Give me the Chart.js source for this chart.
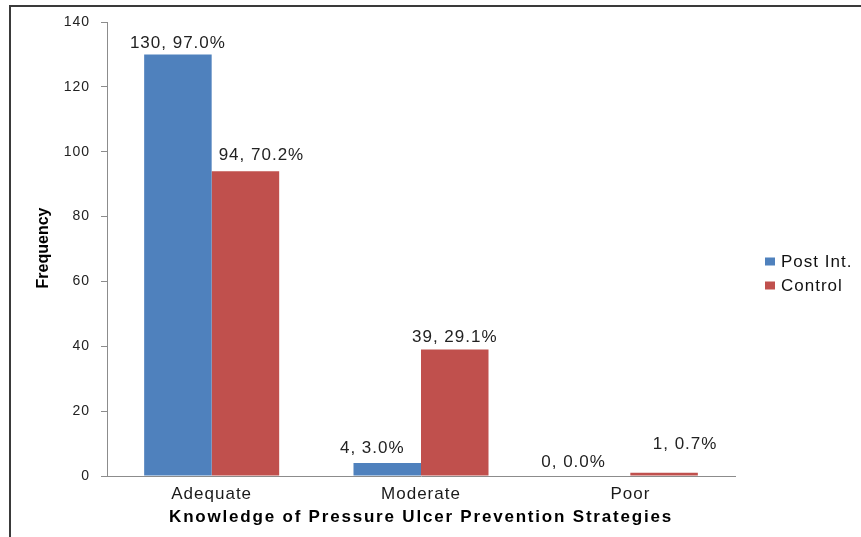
<!DOCTYPE html>
<html><head><meta charset="utf-8">
<script src="https://cdn.jsdelivr.net/npm/chart.js@4/dist/chart.umd.min.js"></script>
<style>
html,body{margin:0;padding:0;background:#fff;}
#wrap{position:relative;width:861px;height:537px;overflow:hidden;background:#fff;}
#frame{position:absolute;left:9px;top:5px;width:900px;height:600px;border-left:2px solid #3a3a3a;border-top:2px solid #3a3a3a;pointer-events:none;}
canvas{position:absolute;left:0;top:0;}
</style></head>
<body>
<div id="wrap"><canvas id="c" width="861" height="537"></canvas><div id="frame"></div></div>
<script>
const categories = ['Adequate', 'Moderate', 'Poor'];
const seriesNames = ['Post Int.', 'Control'];
const postIntCounts = [130, 4, 0];
const controlCounts = [94, 39, 1];
const postIntPercents = [97.0, 3.0, 0.0];
const controlPercents = [70.2, 29.1, 0.7];
const yTickValues = [0, 20, 40, 60, 80, 100, 120, 140];
const xAxisTitle = 'Knowledge of Pressure Ulcer Prevention Strategies';
const yAxisTitle = 'Frequency';

const FAMILY = "'Liberation Sans', Arial, sans-serif";
const seriesColors = ['#4F81BD', '#C0504D'];
// label nudges (style only): [dx, gap above bar top]
const labelNudges = [
  [[0, 6], [-15, 10], [-23, 9]],
  [[16, 11], [0, 8], [21, 24]]
];
const percents = [postIntPercents, controlPercents];

const spacingPlugin = {
  id: 'spacing',
  beforeUpdate(chart) { chart.ctx.letterSpacing = '1px'; },
  beforeLayout(chart) { chart.ctx.letterSpacing = '1px'; },
  beforeDraw(chart) { chart.ctx.letterSpacing = '1px'; }
};

const dataLabelPlugin = {
  id: 'dataLabels',
  afterDatasetsDraw(chart) {
    const ctx = chart.ctx;
    ctx.save();
    ctx.letterSpacing = '1px';
    ctx.font = '17px ' + FAMILY;
    ctx.fillStyle = '#222';
    ctx.textAlign = 'center';
    ctx.textBaseline = 'alphabetic';
    chart.data.datasets.forEach((ds, i) => {
      const meta = chart.getDatasetMeta(i);
      meta.data.forEach((bar, j) => {
        const txt = ds.data[j] + ', ' + percents[i][j].toFixed(1) + '%';
        const [dx, gap] = labelNudges[i][j];
        ctx.fillText(txt, bar.x + dx, bar.y - gap);
      });
    });
    ctx.restore();
  }
};

const extrasPlugin = {
  id: 'extras',
  afterDraw(chart) {
    const ctx = chart.ctx;
    const a = chart.chartArea;
    const mid = (a.top + a.bottom) / 2;
    ctx.save();
    // legend
    ctx.letterSpacing = '1px';
    ctx.font = '17px ' + FAMILY;
    ctx.textAlign = 'left';
    ctx.textBaseline = 'middle';
    chart.data.datasets.forEach((ds, i) => {
      const y = mid + 12.5 + i * 24;
      const x = a.right + 30;
      ctx.fillStyle = ds.backgroundColor;
      ctx.fillRect(x, y - 4, 10, 8);
      ctx.fillStyle = '#111';
      ctx.fillText(ds.label, x + 16, y + 1);
    });
    // x axis title
    ctx.letterSpacing = '1.8px';
    ctx.font = 'bold 17px ' + FAMILY;
    ctx.fillStyle = '#000';
    ctx.textAlign = 'center';
    ctx.textBaseline = 'middle';
    ctx.fillText(xAxisTitle, (a.left + a.right) / 2, a.bottom + 41);
    // y axis title
    ctx.letterSpacing = '0px';
    ctx.font = 'bold 16px ' + FAMILY;
    ctx.translate(44, mid - 1);
    ctx.rotate(-Math.PI / 2);
    ctx.fillText(yAxisTitle, 0, 0);
    ctx.restore();
  }
};

new Chart(document.getElementById('c'), {
  type: 'bar',
  data: {
    labels: categories,
    datasets: [
      { label: seriesNames[0], data: postIntCounts, backgroundColor: seriesColors[0] },
      { label: seriesNames[1], data: controlCounts, backgroundColor: seriesColors[1] }
    ]
  },
  options: {
    responsive: false,
    animation: false,
    devicePixelRatio: 1,
    layout: { padding: { top: 22, right: 126, bottom: 0, left: 0 } },
    datasets: { bar: { categoryPercentage: 0.645, barPercentage: 1.0 } },
    plugins: { legend: { display: false }, tooltip: { enabled: false } },
    scales: {
      x: {
        grid: { display: false, drawTicks: false },
        border: { display: true, color: '#8c8c8c', width: 1 },
        ticks: { color: '#1a1a1a', font: { size: 17, family: FAMILY }, padding: 8 },
        title: { display: false },
        afterFit(s) { s.height = 61; }
      },
      y: {
        min: 0, max: 140,
        afterBuildTicks(s) { s.ticks = yTickValues.map(v => ({ value: v })); },
        grid: { display: true, drawOnChartArea: false, drawTicks: true, tickLength: 6, color: '#8c8c8c' },
        border: { display: true, color: '#8c8c8c', width: 1 },
        ticks: { color: '#222', font: { size: 14, family: FAMILY }, padding: 11 },
        title: { display: false },
        afterFit(s) { s.width = 107; }
      }
    }
  },
  plugins: [spacingPlugin, dataLabelPlugin, extrasPlugin]
});
</script>
</body></html>
